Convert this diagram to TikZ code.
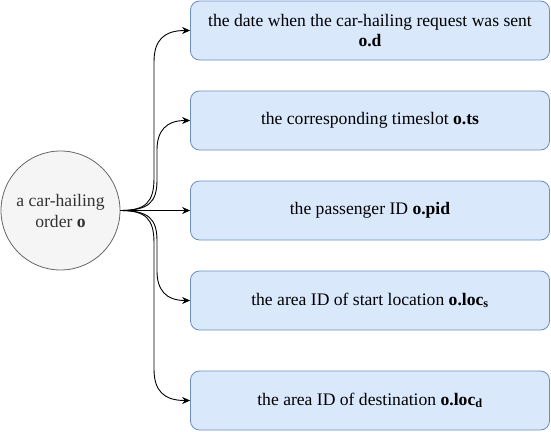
\documentclass[tikz,border=0pt]{standalone}
\usepackage{fontspec}
\setmainfont{Liberation Serif}
\usetikzlibrary{arrows.meta}
\definecolor{boxfill}{HTML}{DAE8FC}
\definecolor{boxline}{HTML}{6C8EBF}
\definecolor{ordfill}{HTML}{F5F5F5}
\definecolor{ordline}{HTML}{666666}
\definecolor{ordtext}{HTML}{333333}
\begin{document}
\begin{tikzpicture}[x=1pt,y=-1pt,
  attr/.style={draw=boxline,fill=boxfill,line width=0.8pt,rounded corners=9pt,minimum width=359pt,minimum height=59pt,align=center,inner sep=0pt,font=\fontsize{17.6}{20}\selectfont},
  order/.style={draw=ordline,fill=ordfill,line width=0.8pt,circle,minimum size=119pt,inner sep=0pt,align=center,text=ordtext,font=\fontsize{17.6}{21}\selectfont},
  conn/.style={-{Stealth[length=8pt,width=7pt]},line width=0.9pt}]
\useasboundingbox (0,0) rectangle (551,431);
\node [order] (o) at (60.5,210.5) {a car-hailing\\order \textbf{o}};
\node [attr] (d) at (370,30.5) {the date when the car-hailing request was sent\\\textbf{o.d}};
\node [attr] (ts) at (370,120.5) {the corresponding timeslot \textbf{o.ts}};
\node [attr] (pid) at (370,210.5) {the passenger ID \textbf{o.pid}};
\node [attr] (locs) at (370,300.5) {the area ID of start location \textbf{o.loc\textsubscript{s}}};
\node [attr] (locd) at (370,400.5) {the area ID of destination \textbf{o.loc\textsubscript{d}}};
\draw [conn] (o.east) .. controls (146,210.5) and (154,202) .. (154,178) -- (154,62) .. controls (154,40) and (164,30.5) .. (d.west);
\draw [conn] (o.east) .. controls (149,210.5) and (157,202) .. (157,180) -- (157,150) .. controls (157,131) and (166,120.5) .. (ts.west);
\draw [conn] (o.east) -- (pid.west);
\draw [conn] (o.east) .. controls (149,210.5) and (157,219) .. (157,241) -- (157,271) .. controls (157,290) and (166,300.5) .. (locs.west);
\draw [conn] (o.east) .. controls (146,210.5) and (154,219) .. (154,243) -- (154,369) .. controls (154,391) and (164,400.5) .. (locd.west);
\end{tikzpicture}
\end{document}
